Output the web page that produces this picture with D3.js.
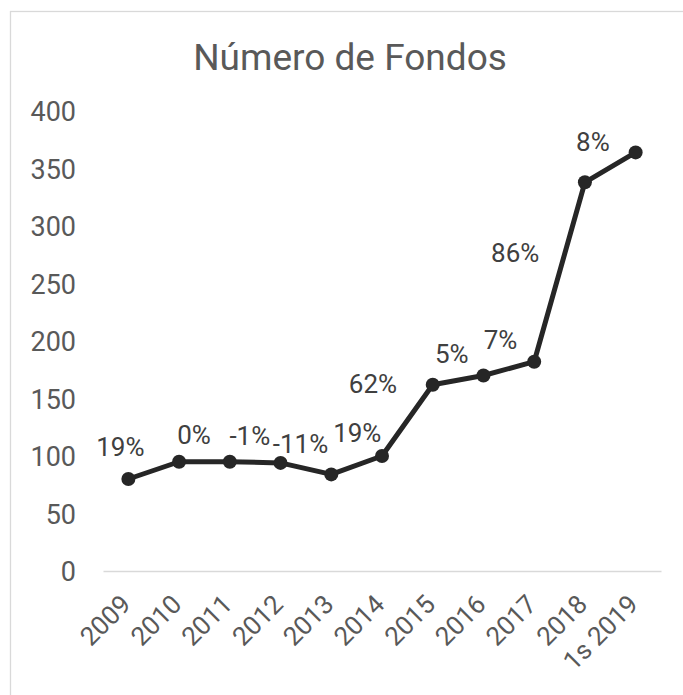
<!DOCTYPE html>
<html>
<head>
<meta charset="utf-8">
<script src="https://cdn.jsdelivr.net/npm/d3@7"></script>
<style>
  body { margin: 0; background: #fff; }
  text { font-family: Roboto, "Noto Sans", sans-serif; }
</style>
</head>
<body>
<div id="viz"></div>
<script>
// data
let years = ["2009", "2010", "2011", "2012", "2013", "2014", "2015", "2016", "2017", "2018", "1s 2019"]
let fondos = [80, 95, 95, 94, 84, 100, 162, 170, 182, 338, 364]
let growth = ["19%", "0%", "-1%", "-11%", "19%", "62%", "5%", "7%", "86%", "8%"]
let yTicks = [0, 50, 100, 150, 200, 250, 300, 350, 400]

// where each growth label sits, relative to its point (px)
let labelNudge = [[-8, -23], [15, -18], [20, -17], [20, -10], [26, -32],
                  [-9, -63], [19, -22], [17, -27], [-19, -100], [8, -31]]

let W = 683, H = 695
let plot = { left: 103, right: 661, top: 111, bottom: 571 }

var svg = d3.select("#viz")
  .append("svg")
    .attr("width", W)
    .attr("height", H)

// chart border (cropped on right & bottom)
svg.append("rect")
    .attr("x", 10.5).attr("y", 11.5)
    .attr("width", W).attr("height", H)
    .attr("fill", "#fff")
    .attr("stroke", "#d9d9d9")
    .attr("stroke-width", 1.3)

svg.append("text")
    .attr("x", 350).attr("y", 70)
    .attr("text-anchor", "middle")
    .attr("fill", "#595959")
    .style("font-size", "37px")
    .text("Número de Fondos")

// scales
let xScale = d3.scaleBand()
    .domain(years)
    .range([plot.left, plot.right])

let yScale = d3.scaleLinear()
    .domain([0, 400])
    .range([plot.bottom, plot.top])

let cx = d => xScale(d) + xScale.bandwidth() / 2

// y axis labels
let yAxis = d3.axisLeft(yScale)
    .tickValues(yTicks)
    .tickSize(0)
    .tickPadding(0)

svg.append("g")
    .attr("id", "y-axis")
    .attr("transform", "translate(76,0)")
    .call(yAxis)
    .call(g => g.select(".domain").remove())
    .selectAll("text")
      .attr("fill", "#595959")
      .attr("dy", "0.36em")
      .style("font-size", "27px")
      .style("font-family", "Roboto")

// x axis
let xAxis = d3.axisBottom(xScale).tickSize(0).tickPadding(0)

svg.append("g")
    .attr("id", "x-axis")
    .attr("transform", `translate(0,${plot.bottom})`)
    .call(xAxis)
    .call(g => g.select(".domain")
        .attr("stroke", "#d9d9d9")
        .attr("stroke-width", 1.5))
    .selectAll("text")
      .attr("fill", "#595959")
      .attr("text-anchor", "end")
      .attr("dy", 0)
      .attr("transform", "translate(4,35) rotate(-45)")
      .style("font-size", "26px")
      .style("font-family", "Roboto")

// line
let line = d3.line()
    .x((d, i) => cx(years[i]))
    .y(d => yScale(d))

svg.append("path")
    .datum(fondos)
    .attr("d", line)
    .attr("fill", "none")
    .attr("stroke", "#262626")
    .attr("stroke-width", 5)
    .attr("stroke-linejoin", "round")

svg.selectAll("circle")
    .data(fondos)
    .join("circle")
      .attr("cx", (d, i) => cx(years[i]))
      .attr("cy", d => yScale(d))
      .attr("r", 7)
      .attr("fill", "#262626")

// growth labels
svg.selectAll(".lbl")
    .data(growth)
    .join("text")
      .attr("class", "lbl")
      .attr("x", (d, i) => cx(years[i]) + labelNudge[i][0])
      .attr("y", (d, i) => yScale(fondos[i]) + labelNudge[i][1])
      .attr("text-anchor", "middle")
      .attr("fill", "#404040")
      .style("font-size", "26px")
      .text(d => d)
</script>
</body>
</html>
